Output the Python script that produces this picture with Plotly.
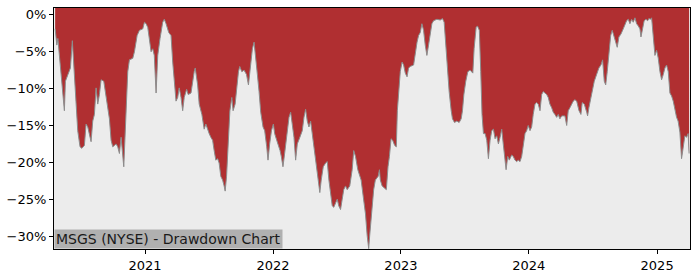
import pandas as pd
import plotly.graph_objects as go

# Decimal-year dates and drawdown (%)
t = [2020.299, 2020.312, 2020.320, 2020.332, 2020.345, 2020.371, 2020.379, 2020.398, 2020.418, 2020.433,
     2020.444, 2020.462, 2020.475, 2020.493, 2020.507, 2020.527, 2020.540, 2020.553, 2020.579, 2020.592,
     2020.605, 2020.618, 2020.631, 2020.644, 2020.657, 2020.678, 2020.696, 2020.722, 2020.735, 2020.748,
     2020.774, 2020.787, 2020.800, 2020.813, 2020.834, 2020.852, 2020.865, 2020.878, 2020.904, 2020.917,
     2020.938, 2020.956, 2020.982, 2020.995, 2021.008, 2021.021, 2021.034, 2021.047, 2021.060, 2021.072,
     2021.086, 2021.099, 2021.117, 2021.138, 2021.150, 2021.164, 2021.185, 2021.203, 2021.216, 2021.228,
     2021.242, 2021.255, 2021.267, 2021.281, 2021.294, 2021.306, 2021.325, 2021.337, 2021.359, 2021.384,
     2021.392, 2021.411, 2021.423, 2021.444, 2021.462, 2021.475, 2021.489, 2021.501, 2021.514, 2021.528,
     2021.540, 2021.553, 2021.567, 2021.579, 2021.592, 2021.606, 2021.618, 2021.626, 2021.637, 2021.652,
     2021.663, 2021.678, 2021.688, 2021.704, 2021.715, 2021.730, 2021.740, 2021.756, 2021.774, 2021.793,
     2021.808, 2021.826, 2021.839, 2021.852, 2021.865, 2021.878, 2021.891, 2021.904, 2021.922, 2021.935,
     2021.951, 2021.961, 2021.974, 2021.988, 2022.003, 2022.013, 2022.029, 2022.039, 2022.055, 2022.065,
     2022.078, 2022.091, 2022.107, 2022.125, 2022.138, 2022.151, 2022.164, 2022.177, 2022.190, 2022.210,
     2022.229, 2022.242, 2022.255, 2022.268, 2022.281, 2022.294, 2022.307, 2022.325, 2022.341, 2022.351,
     2022.366, 2022.377, 2022.393, 2022.411, 2022.424, 2022.437, 2022.450, 2022.463, 2022.475, 2022.489,
     2022.502, 2022.514, 2022.528, 2022.541, 2022.553, 2022.567, 2022.580, 2022.600, 2022.619, 2022.631,
     2022.645, 2022.663, 2022.678, 2022.689, 2022.705, 2022.723, 2022.736, 2022.748, 2022.756, 2022.769,
     2022.787, 2022.800, 2022.822, 2022.832, 2022.839, 2022.853, 2022.873, 2022.886, 2022.899, 2022.910,
     2022.923, 2022.935, 2022.951, 2022.964, 2022.972, 2022.982, 2022.995, 2023.009, 2023.021, 2023.034,
     2023.048, 2023.060, 2023.073, 2023.099, 2023.112, 2023.126, 2023.138, 2023.151, 2023.164, 2023.177,
     2023.190, 2023.203, 2023.216, 2023.229, 2023.242, 2023.255, 2023.281, 2023.307, 2023.325, 2023.338,
     2023.352, 2023.367, 2023.377, 2023.393, 2023.403, 2023.419, 2023.437, 2023.455, 2023.471, 2023.481,
     2023.492, 2023.507, 2023.523, 2023.541, 2023.562, 2023.572, 2023.588, 2023.598, 2023.613, 2023.624,
     2023.634, 2023.645, 2023.658, 2023.671, 2023.684, 2023.697, 2023.710, 2023.723, 2023.736, 2023.749,
     2023.762, 2023.775, 2023.788, 2023.800, 2023.814, 2023.822, 2023.835, 2023.847, 2023.866, 2023.878,
     2023.892, 2023.905, 2023.917, 2023.931, 2023.944, 2023.956, 2023.970, 2023.983, 2023.995, 2024.009,
     2024.022, 2024.034, 2024.048, 2024.061, 2024.073, 2024.087, 2024.100, 2024.112, 2024.126, 2024.139,
     2024.151, 2024.164, 2024.178, 2024.190, 2024.203, 2024.217, 2024.229, 2024.242, 2024.256, 2024.281,
     2024.295, 2024.307, 2024.320, 2024.334, 2024.346, 2024.359, 2024.373, 2024.391, 2024.406, 2024.416,
     2024.432, 2024.451, 2024.458, 2024.468, 2024.484, 2024.494, 2024.510, 2024.528, 2024.546, 2024.562,
     2024.575, 2024.588, 2024.599, 2024.611, 2024.624, 2024.638, 2024.650, 2024.663, 2024.677, 2024.689,
     2024.702, 2024.718, 2024.736, 2024.749, 2024.762, 2024.775, 2024.788, 2024.801, 2024.814, 2024.827,
     2024.840, 2024.853, 2024.866, 2024.874, 2024.887, 2024.899, 2024.913, 2024.926, 2024.936, 2024.949,
     2024.957, 2024.970, 2024.983, 2024.996, 2025.009, 2025.022, 2025.035, 2025.048, 2025.061, 2025.074,
     2025.087, 2025.100, 2025.113, 2025.126, 2025.139, 2025.152, 2025.164, 2025.178, 2025.191, 2025.203,
     2025.217, 2025.230, 2025.242, 2025.250]

drawdown = [-1.9, -4.1, -3.2, -5.5, -7.0, -13.0, -9.0, -8.1, -7.2, -3.5,
            -6.4, -10.8, -15.7, -17.9, -18.1, -17.7, -14.8, -15.2, -17.2, -14.4,
            -13.5, -9.9, -12.1, -10.8, -8.8, -9.0, -11.2, -14.1, -17.0, -17.9,
            -17.5, -17.9, -18.8, -16.6, -20.6, -11.7, -7.7, -6.1, -5.9, -5.0,
            -2.8, -2.1, -1.9, -1.0, -1.2, -1.7, -3.7, -5.0, -4.6, -5.5,
            -10.6, -5.5, -3.2, -1.0, -0.6, -1.2, -2.4, -2.8, -6.4, -9.5,
            -11.7, -11.2, -9.9, -11.2, -13.0, -11.2, -10.1, -10.8, -10.6, -7.7,
            -7.2, -9.5, -12.1, -13.5, -15.5, -14.8, -15.7, -16.1, -16.6, -17.0,
            -18.4, -19.7, -19.5, -20.1, -21.9, -22.4, -23.2, -23.9, -21.9, -16.6,
            -13.0, -11.2, -13.0, -12.1, -9.9, -7.7, -7.0, -7.7, -7.5, -8.1,
            -9.5, -6.4, -4.6, -3.7, -5.5, -8.1, -10.4, -13.2, -15.2, -15.7,
            -17.9, -19.7, -17.5, -15.7, -14.8, -16.1, -17.0, -17.5, -18.4, -19.2,
            -20.6, -18.8, -16.6, -13.9, -13.2, -14.8, -16.6, -19.7, -17.5, -16.6,
            -15.7, -13.9, -12.8, -14.4, -15.2, -14.4, -16.1, -18.4, -20.1, -21.5,
            -24.1, -22.4, -20.6, -20.1, -19.9, -22.4, -24.1, -25.9, -26.1, -25.5,
            -25.0, -25.9, -26.4, -25.0, -23.7, -23.2, -23.7, -23.2, -21.0, -18.4,
            -19.2, -21.0, -21.9, -22.4, -24.6, -27.0, -29.9, -31.7, -29.9, -26.8,
            -23.7, -22.4, -21.9, -21.0, -22.4, -23.2, -23.5, -23.7, -20.6, -19.2,
            -16.8, -17.0, -17.7, -17.9, -13.0, -10.4, -7.7, -6.4, -6.8, -7.9,
            -8.4, -7.2, -7.0, -6.8, -5.0, -3.7, -2.8, -2.4, -1.2, -2.1,
            -4.1, -5.5, -4.1, -2.8, -1.2, -0.8, -0.6, -0.7, -0.5, -1.0,
            -4.6, -7.7, -10.4, -13.0, -14.1, -14.6, -14.4, -14.6, -14.1, -13.0,
            -10.8, -9.0, -7.7, -7.5, -7.9, -4.6, -1.7, -1.5, -2.1, -7.7,
            -13.5, -16.1, -16.1, -17.0, -19.5, -17.0, -15.7, -15.5, -16.8, -16.4,
            -17.5, -16.6, -15.5, -17.5, -19.7, -21.0, -19.2, -19.7, -19.0, -19.2,
            -19.7, -19.9, -19.7, -19.9, -19.2, -17.5, -16.1, -15.7, -15.0, -15.7,
            -15.2, -13.5, -12.1, -11.9, -12.1, -13.0, -10.8, -10.4, -10.6, -10.8,
            -11.2, -12.1, -12.6, -13.2, -13.5, -13.9, -13.5, -14.1, -13.7, -13.7,
            -15.0, -13.0, -12.6, -12.1, -11.7, -11.5, -11.7, -13.0, -13.5, -11.9,
            -12.1, -13.2, -13.7, -12.6, -11.2, -9.9, -9.0, -8.1, -7.2, -6.8,
            -6.1, -9.0, -9.5, -7.7, -5.0, -2.8, -2.1, -2.8, -3.7, -4.4,
            -3.0, -2.6, -1.9, -1.2, -0.8, -0.6, -1.2, -0.6, -1.0, -0.4,
            -1.2, -1.5, -1.9, -3.0, -1.9, -0.8, -0.6, -0.8, -0.5, -0.6,
            -0.4, -3.2, -5.5, -4.8, -5.9, -7.7, -8.8, -8.1, -7.2, -6.8,
            -7.7, -10.6, -11.0, -11.7, -13.0, -13.9, -14.4, -15.9, -19.5, -17.9,
            -16.4, -16.6, -16.1, -18.8]

x_start = 2020.290
x_end = 2025.257
y_min = -31.75
y_max = 0.93
y_ticks = [0, -5, -10, -15, -20, -25, -30]
y_tick_labels = ["0%", "\u22125%", "\u221210%", "\u221215%", "\u221220%", "\u221225%", "\u221230%"]
x_ticks = ["2021-01-01", "2022-01-01", "2023-01-01", "2024-01-01", "2025-01-01"]
x_tick_labels = ["2021", "2022", "2023", "2024", "2025"]
title_text = "MSGS (NYSE) - Drawdown Chart"


def to_date(v):
    year = int(v)
    start = pd.Timestamp(year=year, month=1, day=1)
    end = pd.Timestamp(year=year + 1, month=1, day=1)
    return start + (end - start) * (v - year)


dates = [to_date(v) for v in t]

fig = go.Figure()
# upper edge of the filled region: the top of the axis
fig.add_trace(go.Scatter(
    x=dates, y=[y_max] * len(dates), mode="lines",
    line=dict(width=0, color="rgba(0,0,0,0)"),
    hoverinfo="skip", showlegend=False,
))
fig.add_trace(go.Scatter(
    x=dates, y=drawdown, mode="lines",
    line=dict(color="#8c8c8c", width=1),
    fill="tonexty", fillcolor="#b02f31",
    hoverinfo="skip", showlegend=False,
))

font = dict(family="DejaVu Sans", size=13, color="#000000")
fig.update_layout(
    width=700, height=280,
    margin=dict(l=53, r=10, t=7, b=28),
    paper_bgcolor="#ffffff",
    plot_bgcolor="#ececec",
    font=font,
    showlegend=False,
    xaxis=dict(
        range=[to_date(x_start), to_date(x_end)],
        tickvals=x_ticks, ticktext=x_tick_labels,
        showgrid=False, zeroline=False,
        showline=True, linecolor="#000000", linewidth=1, mirror=True,
        ticks="outside", ticklen=4, tickcolor="#000000",
        tickfont=font,
    ),
    yaxis=dict(
        range=[y_min, y_max],
        tickvals=y_ticks, ticktext=y_tick_labels,
        showgrid=False, zeroline=False,
        showline=True, linecolor="#000000", linewidth=1, mirror=True,
        ticks="outside", ticklen=4, tickcolor="#000000",
        tickfont=font,
    ),
    annotations=[dict(
        text=title_text, xref="paper", yref="paper", x=0, y=0,
        xanchor="left", yanchor="bottom", showarrow=False,
        bgcolor="#b0b0b0", borderpad=1,
        font=dict(family="DejaVu Sans", size=14, color="#1a1a1a"),
    )],
)

fig.write_html("out.html")
